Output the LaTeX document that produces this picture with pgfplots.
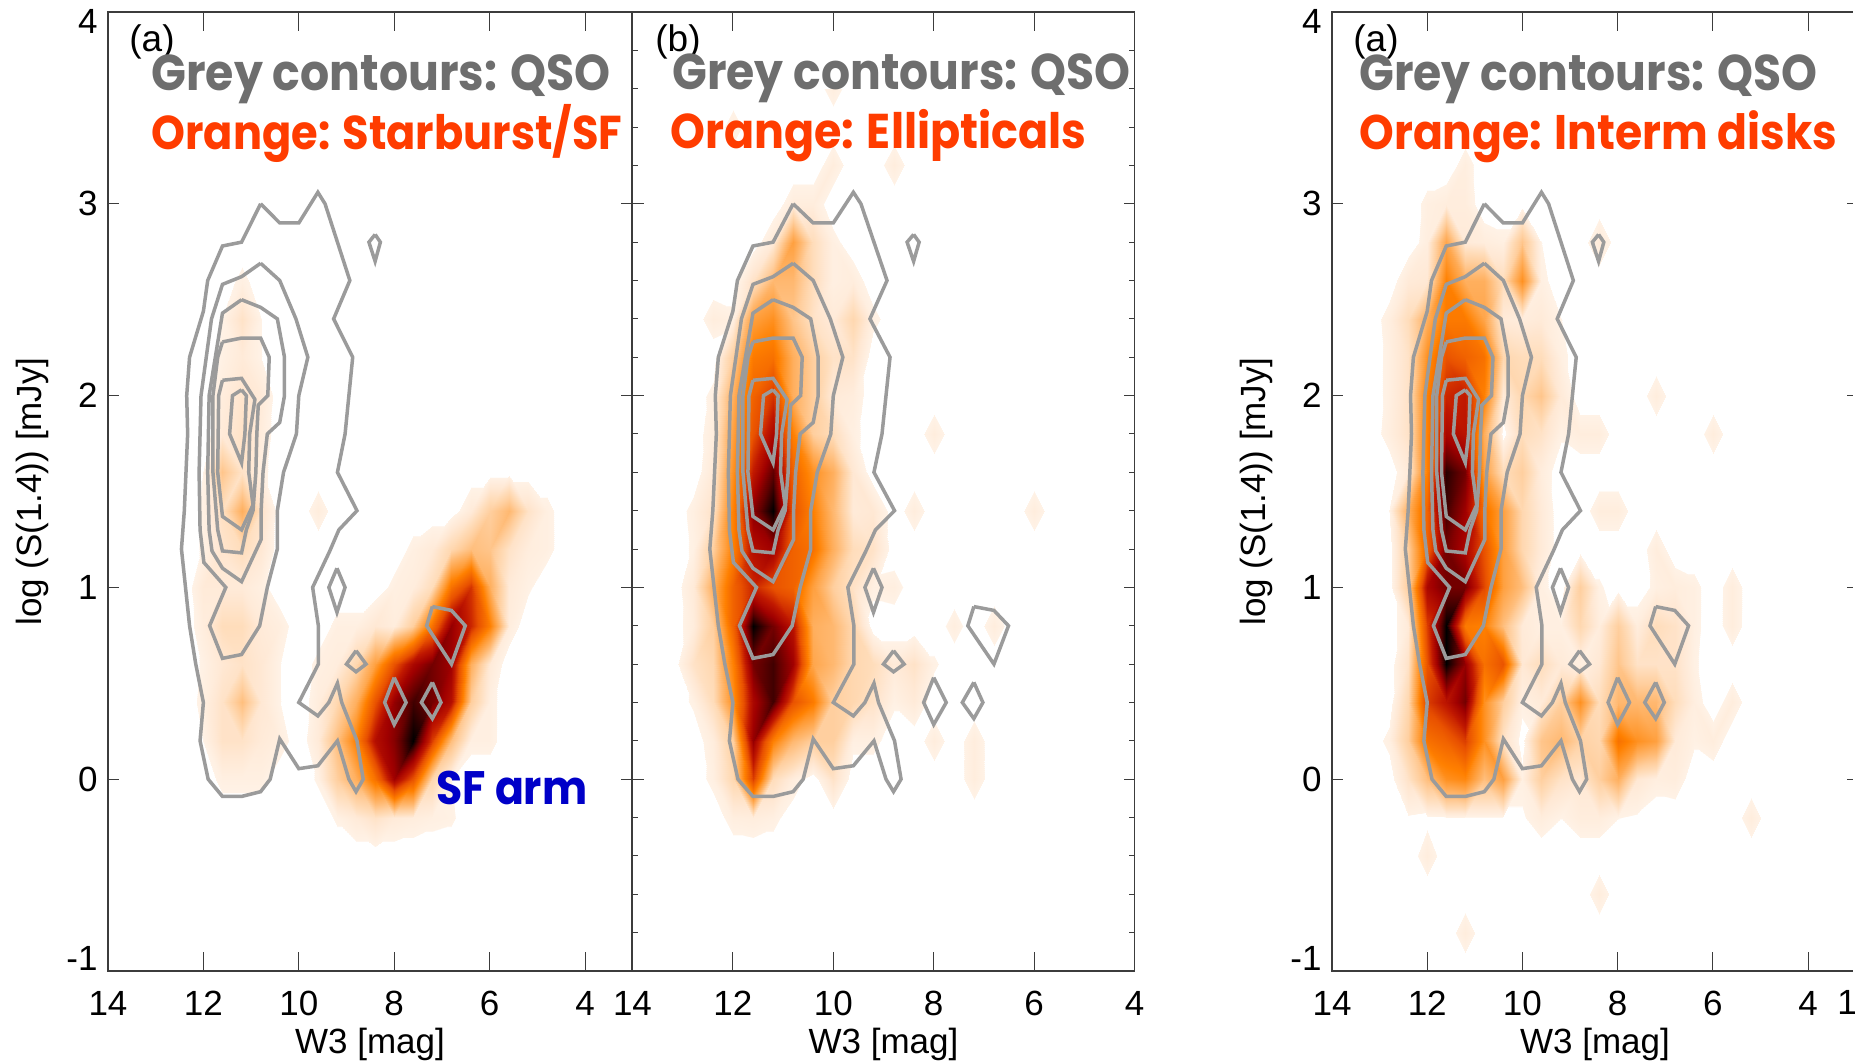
\documentclass[border=0pt]{standalone}
\usepackage{pgfplots}
\pgfplotsset{compat=1.18}
\usepackage{fontspec}
\setmainfont{Liberation Sans}
\newfontfamily\gf{Poppins}
\definecolor{gt}{RGB}{110,110,110}
\definecolor{ot}{RGB}{255,60,0}
\definecolor{bt}{RGB}{0,0,200}
\definecolor{cl}{RGB}{155,155,155}
\definecolor{sp}{RGB}{60,60,60}
% each row: panel name, y value, densities at x = 13.2, 12.8, ..., 4.4
\newcount\rowno
\newcommand\startfield{\global\rowno=0 }
\newcommand\fieldrow[3]{\global\advance\rowno by 1 \expandafter\xdef\csname #1@y@\the\rowno\endcsname{#2}%
 \foreach \z [count=\i from 0] in {#3}{\expandafter\xdef\csname #1@\the\rowno @\i\endcsname{\z}}}
\newcommand\zrow[2]{\fieldrow{#1}{#2}{0,0,0,0,0,0,0,0,0,0,0,0,0,0,0,0,0,0,0,0,0,0,0}}
% Panel 1: Starburst/SF
\startfield
\zrow{A}{3.6}\zrow{A}{3.4}\zrow{A}{3.2}\zrow{A}{3.0}\zrow{A}{2.8}
\fieldrow{A}{2.6}{0,0,0,0, 0,3,0,0, 0,0,0,0, 0,0,0,0, 0,0,0,0, 0,0,0}
\fieldrow{A}{2.4}{0,0,0,0, 2,8,2,0, 0,0,0,0, 0,0,0,0, 0,0,0,0, 0,0,0}
\fieldrow{A}{2.2}{0,0,0,0, 2.5,5,2,0, 0,0,0,0, 0,0,0,0, 0,0,0,0, 0,0,0}
\fieldrow{A}{2.0}{0,0,0,0, 4,7,5,0, 0,0,0,0, 0,0,0,0, 0,0,0,0, 0,0,0}
\fieldrow{A}{1.8}{0,0,0,0, 5,8,4,0, 0,0,0,0, 0,0,0,0, 0,0,0,0, 0,0,0}
\fieldrow{A}{1.6}{0,0,0,2, 18,8,3,0, 0,0,0,0, 0,0,0,0, 0,0,0,0, 0,0,0}
\fieldrow{A}{1.4}{0,0,0,2.5, 9,25,8,0, 0,4,0,0, 0,0,0,0, 0,5,15,22, 8,3,0}
\fieldrow{A}{1.2}{0,0,0,2.5, 7,10,6,0, 0,0,0,0, 0,0,3,5, 12,20,18,8, 4,3,0}
\fieldrow{A}{1.0}{0,0,0,5, 5,5,3,0, 0,0,0,0, 0,3,4,10, 45,62,25,5, 2.5,0,0}
\fieldrow{A}{0.8}{0,0,0,4, 10,10,5,3.5, 0,0,3,3, 6,4,15,45, 80,65,40,4, 0,0,0}
\fieldrow{A}{0.6}{0,0,0,2.5, 6,8,6,2, 0,3,4,12, 30,55,75,85, 78,25,5,0, 0,0,0}
\fieldrow{A}{0.4}{0,0,0,3, 8,20,6,2, 0,4,12,25, 55,80,92,85, 72,15,3,0, 0,0,0}
\fieldrow{A}{0.2}{0,0,0,2, 8,8,5,3.5, 0,5,20,40, 72,82,100,60, 20,3,3,0, 0,0,0}
\fieldrow{A}{0.0}{0,0,0,0, 3,3,3,0, 0,2.5,15,25, 45,78,55,12, 2,0,0,0, 0,0,0}
\fieldrow{A}{-0.2}{0,0,0,0, 0,0,0,0, 0,0,2.5,5, 8,5,4,3, 2.5,0,0,0, 0,0,0}
\zrow{A}{-0.4}\zrow{A}{-0.6}\zrow{A}{-0.8}\zrow{A}{-1.0}
% Panel 2: Ellipticals
\startfield
\fieldrow{B}{3.6}{0,0,0,0, 0,0,0,0, 3.5,0,0,0, 0,0,0,0, 0,0,0,0, 0,0,0}
\fieldrow{B}{3.4}{0,0,0,3.5, 0,0,0,0, 0,0,0,0, 0,0,0,0, 0,0,0,0, 0,0,0}
\fieldrow{B}{3.2}{0,0,0,0, 0,0,0,0, 4,0,0,4, 0,0,0,0, 0,0,0,0, 0,0,0}
\fieldrow{B}{3.0}{0,0,0,0, 0,0,4,4, 0,0,0,0, 0,0,0,0, 0,0,0,0, 0,0,0}
\fieldrow{B}{2.8}{0,0,0,0, 0,5,30,10, 3,0,0,0, 0,0,0,0, 0,0,0,0, 0,0,0}
\fieldrow{B}{2.6}{0,0,0,0, 8,22,22,10, 3,4,0,0, 0,0,0,0, 0,0,0,0, 0,0,0}
\fieldrow{B}{2.4}{0,0,4,3, 30,35,18,8, 5,12,3,0, 0,0,0,0, 0,0,0,0, 0,0,0}
\fieldrow{B}{2.2}{0,0,0,15, 42,45,25,15, 8,8,0,0, 0,0,0,0, 0,0,0,0, 0,0,0}
\fieldrow{B}{2.0}{0,0,3,25, 50,62,25,15, 5,4,0,0, 0,0,0,0, 0,0,0,0, 0,0,0}
\fieldrow{B}{1.8}{0,0,4,30, 55,75,40,15, 10,3,0,0, 0,4,0,0, 0,0,0,0, 0,0,0}
\fieldrow{B}{1.6}{0,0,5,35, 68,88,50,35, 25,6,0,0, 0,0,0,0, 0,0,0,0, 0,0,0}
\fieldrow{B}{1.4}{0,3,8,40, 82,100,55,40, 22,5,6,0, 4,0,0,0, 0,0,4,0, 0,0,0}
\fieldrow{B}{1.2}{0,2.5,15,40, 72,78,50,45, 25,10,8,0, 0,0,0,0, 0,0,0,0, 0,0,0}
\fieldrow{B}{1.0}{0,5,25,50, 65,55,50,30, 15,8,3,3.5, 0,0,0,0, 0,0,0,0, 0,0,0}
\fieldrow{B}{0.8}{0,4,15,50, 100,85,70,25, 22,12,0,0, 0,0,3.5,0, 4,0,0,0, 0,0,0}
\fieldrow{B}{0.6}{0,8,12,40, 85,92,78,28, 22,12,10,5, 8,2.5,0,0, 0,0,0,0, 0,0,0}
\fieldrow{B}{0.4}{0,2.5,10,35, 75,92,55,42, 15,12,8,2.5, 5,0,0,0, 0,0,0,0, 0,0,0}
\fieldrow{B}{0.2}{0,0,4,15, 80,40,22,15, 15,3,3,0, 0,4,0,4, 0,0,0,0, 0,0,0}
\fieldrow{B}{0.0}{0,0,3,12, 60,10,4,0, 8,0,0,0, 0,0,0,4, 0,0,0,0, 0,0,0}
\fieldrow{B}{-0.2}{0,0,0,3.5, 4,3,0,0, 0,0,0,0, 0,0,0,0, 0,0,0,0, 0,0,0}
\zrow{B}{-0.4}\zrow{B}{-0.6}\zrow{B}{-0.8}\zrow{B}{-1.0}
% Panel 3: Interm disks
\startfield
\zrow{C}{3.6}\zrow{C}{3.4}
\fieldrow{C}{3.2}{0,0,0,0, 0,3.5,0,0, 0,0,0,0, 0,0,0,0, 0,0,0,0, 0,0,0}
\fieldrow{C}{3.0}{0,0,0,3, 4,4,0,0, 0,0,0,0, 0,0,0,0, 0,0,0,0, 0,0,0}
\fieldrow{C}{2.8}{0,0,0,3.5, 28,5,4,3, 18,2,0,0, 5,0,0,0, 0,0,0,0, 0,0,0}
\fieldrow{C}{2.6}{0,0,5,6, 40,25,25,10, 35,3,0,0, 0,0,0,0, 0,0,0,0, 0,0,0}
\fieldrow{C}{2.4}{0,3.5,10,25, 42,42,28,5, 4,5,2,0, 0,0,0,0, 0,0,0,0, 0,0,0}
\fieldrow{C}{2.2}{0,3,8,35, 55,50,45,12, 10,10,3,0, 0,0,0,0, 0,0,0,0, 0,0,0}
\fieldrow{C}{2.0}{0,3,8,40, 65,68,40,5, 12,18,5,0, 0,0,0,4, 0,0,0,0, 0,0,0}
\fieldrow{C}{1.8}{0,3.5,8,40, 75,70,25,0.5, 10,8,2.5,4, 4,0,0,0, 0,0,4,0, 0,0,0}
\fieldrow{C}{1.6}{0,0,5,40, 95,85,30,10, 15,4,0,0, 0,0,0,0, 0,0,0,0, 0,0,0}
\fieldrow{C}{1.4}{0,2,25,50, 92,78,45,30, 12,5,0,0, 4,4,0,0, 0,0,0,0, 0,0,0}
\fieldrow{C}{1.2}{0,0,15,50, 85,75,55,30, 12,5,0,0, 0,0,0,4, 0,0,0,0, 0,0,0}
\fieldrow{C}{1.0}{0,0,15,75, 85,85,58,30, 20,3,0,15, 2.5,0,0,3, 4,3,0,4, 0,0,0}
\fieldrow{C}{0.8}{0,0,5,60, 100,42,40,20, 5,3,3,12, 4,15,4,10, 8,3,0,4, 0,0,0}
\fieldrow{C}{0.6}{0,0,8,55, 100,80,45,55, 6,10,5,3, 6,18,8,8, 8,2.5,0,0, 0,0,0}
\fieldrow{C}{0.4}{0,0,12,60, 70,85,35,15, 3,5,15,35, 10,22,22,22, 10,3.5,0,4, 0,0,0}
\fieldrow{C}{0.2}{0,3,15,45, 50,60,35,8, 0.5,18,22,14, 12,45,35,30, 5,2.5,4,0, 0,0,0}
\fieldrow{C}{0.0}{0,0,8,20, 35,38,20,30, 3,15,8,6, 15,25,6,3.5, 4,0,0,0, 0,0,0}
\fieldrow{C}{-0.2}{0,0,1.5,1, 1.5,1.5,1.5,1.5, 1.5,4,2,4, 4,2,1.5,0, 0,0,0,0, 4,0,0}
\fieldrow{C}{-0.4}{0,0,0,4, 0,0,0,0, 0,0,0,0, 0,0,0,0, 0,0,0,0, 0,0,0}
\fieldrow{C}{-0.6}{0,0,0,0, 0,0,0,0, 0,0,0,0, 4,0,0,0, 0,0,0,0, 0,0,0}
\fieldrow{C}{-0.8}{0,0,0,0, 0,4,0,0, 0,0,0,0, 0,0,0,0, 0,0,0,0, 0,0,0}
\zrow{C}{-1.0}
% triangles from the grid: each non-empty cell is split along the diagonal whose ends differ least
\newcommand\vtx[2]{(\csname xx\number#2\endcsname,\csname \pn @y@\number#1\endcsname) [\csname \pn @\number#1@\number#2\endcsname]}
\newcommand\buildfield[2]{\gdef#2{}\def\pn{#1}%
 \foreach \r in {1,...,23}{\foreach \c in {0,...,21}{%
  \pgfmathtruncatemacro\rn{\r+1}\pgfmathtruncatemacro\cn{\c+1}%
  \edef\A{\csname #1@\r @\c\endcsname}\edef\B{\csname #1@\r @\cn\endcsname}%
  \edef\C{\csname #1@\rn @\c\endcsname}\edef\D{\csname #1@\rn @\cn\endcsname}%
  \pgfmathsetmacro\sm{\A+\B+\C+\D}%
  \ifdim\sm pt>0pt
   \pgfmathsetmacro\da{abs(\A-\D)}\pgfmathsetmacro\db{abs(\B-\C)}%
   \ifdim\da pt<\db pt
    \xdef#2{#2 \vtx{\r}{\c}\vtx{\r}{\cn}\vtx{\rn}{\cn}\vtx{\r}{\c}\vtx{\rn}{\cn}\vtx{\rn}{\c}}%
   \else
    \xdef#2{#2 \vtx{\r}{\c}\vtx{\r}{\cn}\vtx{\rn}{\c}\vtx{\r}{\cn}\vtx{\rn}{\cn}\vtx{\rn}{\c}}%
   \fi
  \fi}}}
\foreach \xv [count=\i from 0] in {13.2,12.8,12.4,12,11.6,11.2,10.8,10.4,10,9.6,9.2,8.8,8.4,8,7.6,7.2,6.8,6.4,6,5.6,5.2,4.8,4.4}{\expandafter\xdef\csname xx\i\endcsname{\xv}}
\buildfield{A}{\fA}
\buildfield{B}{\fB}
\buildfield{C}{\fC}
% QSO contours, shared by the panels
\newcommand\qso{%
\addplot[ql] coordinates {(10.8,3.0)(10.4,2.9)(10,2.9)(9.6,3.06)(9.45,3)(8.93,2.6)(9.27,2.4)(8.87,2.2)(9.03,1.8)(9.19,1.6)(8.78,1.4)(9.16,1.3)(9.35,1.19)(9.71,1)(9.59,.8)(9.59,.6)(10,.4)(9.6,.33)(9.37,.4)(9.19,.5)(9.1,.4)(8.78,.2)(8.65,0)(8.8,-.065)(8.95,0)(9.19,.2)(9.6,.07)(10,.055)(10.4,.21)(10.6,0)(10.8,-.065)(11.2,-.09)(11.6,-.09)(11.9,0)(12.07,.2)(12,.4)(12.16,.6)(12.29,.8)(12.46,1.2)(12.4,1.4)(12.33,1.8)(12.35,2)(12.29,2.2)(12,2.44)(11.91,2.6)(11.6,2.78)(11.2,2.8)(10.8,3.0)};
\addplot[ql] coordinates {(10.8,2.69)(10.4,2.6)(10.06,2.4)(9.81,2.2)(10,2)(10.05,1.8)(10.32,1.6)(10.45,1.4)(10.45,1.2)(10.66,1)(10.82,.8)(11.2,.65)(11.6,.63)(11.87,.8)(11.53,1)(11.99,1.13)(12.07,1.3)(12.09,1.6)(12.05,2)(11.83,2.4)(11.6,2.58)(11.2,2.62)(10.8,2.69)};
\addplot[ql] coordinates {(11.2,2.5)(10.8,2.46)(10.45,2.4)(10.3,2.2)(10.3,2)(10.4,1.86)(10.66,1.8)(10.75,1.6)(10.79,1.4)(10.79,1.25)(11.2,1.03)(11.6,1.1)(11.82,1.19)(11.88,1.3)(11.91,1.6)(11.88,2)(11.75,2.2)(11.6,2.43)(11.2,2.5)};
\addplot[ql] coordinates {(11.6,2.28)(11.2,2.3)(10.8,2.3)(10.62,2.2)(10.65,2)(10.85,1.95)(10.88,1.8)(10.9,1.6)(10.96,1.4)(11.1,1.3)(11.2,1.18)(11.6,1.19)(11.7,1.3)(11.8,1.6)(11.8,2)(11.7,2.2)(11.6,2.28)};
\addplot[ql] coordinates {(11.6,2.08)(11.2,2.09)(10.92,1.98)(11.03,1.8)(11.05,1.6)(10.96,1.43)(11.2,1.3)(11.6,1.37)(11.7,1.6)(11.68,2)(11.6,2.08)};
\addplot[ql] coordinates {(11.2,2.03)(11.1,2)(11.13,1.8)(11.2,1.65)(11.45,1.8)(11.39,2)(11.2,2.03)};
\addplot[ql] coordinates {(8.4,2.84)(8.29,2.8)(8.4,2.7)(8.53,2.8)(8.4,2.84)};
\addplot[ql] coordinates {(9.2,1.1)(9.03,1)(9.2,.87)(9.37,1)(9.2,1.1)};
\addplot[ql] coordinates {(8.8,.67)(8.59,.6)(8.8,.56)(9,.6)(8.8,.67)};
\addplot[ql] coordinates {(8,.53)(7.75,.4)(8,.285)(8.2,.4)(8,.53)};
\addplot[ql] coordinates {(7.2,.505)(7.02,.4)(7.2,.316)(7.43,.4)(7.2,.505)};
\addplot[ql] coordinates {(7.2,.9)(6.8,.88)(6.51,.8)(6.8,.6)(7.32,.8)(7.2,.9)};
}
\pgfplotsset{
 colormap={dens}{rgb255(0pt)=(255,255,255); rgb255(19pt)=(255,255,255); rgb255(20pt)=(255,242,230); rgb255(60pt)=(255,232,212); rgb255(100pt)=(255,221,187); rgb255(150pt)=(255,207,159); rgb255(220pt)=(255,184,112); rgb255(320pt)=(255,154,51); rgb255(400pt)=(255,128,0); rgb255(560pt)=(232,80,0); rgb255(680pt)=(192,24,0); rgb255(780pt)=(160,0,0); rgb255(880pt)=(96,0,0); rgb255(1000pt)=(0,0,0)},
 ql/.style={cl,line width=1.75pt,mark=none,line join=miter},
 base/.style={scale only axis,anchor=south west,height=479.5pt,ymin=-1,ymax=4,x dir=reverse,xmax=14,
   axis line style={sp,line width=.55pt},tick align=inside,every tick/.style={sp,line width=.5pt},
   tick label style={font=\fontsize{17.5}{20}\selectfont}},
 xa/.style={base,ytick=\empty,major tick length=9.5pt,xtick={14,12,10,8,6,4},xticklabels={14,12,10,8,6,4},
   x tick label style={inner sep=0pt,yshift=-10pt},
   xlabel={W3 [mag]},xlabel style={font=\fontsize{17.5}{20}\selectfont,at={(axis description cs:.5,0)},anchor=base,yshift=-41pt}},
 ya/.style={base,xtick=\empty,major tick length=5.5pt,ytick={-1,0,1,2,3,4}},
 yl/.style={yticklabels={\raisebox{6.5pt}[\height][\depth]{-1},0,1,2,3,\raisebox{-4.5pt}[\height][\depth]{4}},
   y tick label style={inner sep=0pt,xshift=-5pt},
   ylabel={log (S(1.4)) [mJy]},ylabel style={font=\fontsize{17.5}{20}\selectfont,at={(axis description cs:#1,.5)},anchor=base}},
}
\newcommand\field[1]{\edef\doplot{\noexpand\addplot[patch,patch type=triangle,shader=interp,point meta=explicit,point meta min=0,point meta max=100,colormap name=dens] coordinates {#1};}\doplot}
\newcommand\tx[5]{\node[anchor=base west,inner sep=0pt,text=#4] at ({#1*0.5pt},{(1061-#2)*0.5pt}) {\resizebox{\dimexpr #3pt/2\relax}{!}{\scalebox{1}[1.1]{#5}}};}
\newcommand\pl[3]{\node[anchor=base west,inner sep=0pt] at ({#1*0.5pt},{(1061-#2)*0.5pt}) {\fontsize{18.5}{20}\selectfont #3};}
\begin{document}
\begin{tikzpicture}
\useasboundingbox (0,0) rectangle (935.5pt,530.5pt);
% Panel 1
\begin{axis}[ya,yl=-0.1276,at={(54pt,45pt)},width=262pt,xmin=3.015]
\field{\fA}
\qso
\end{axis}
\begin{axis}[xa,at={(54pt,45pt)},width=262pt,xmin=3.015]
\end{axis}
% Panel 2
\begin{axis}[ya,yticklabels={},minor y tick num=4,minor tick length=2.6pt,at={(316.25pt,45pt)},width=251pt,xmin=4]
\field{\fB}
\qso
\end{axis}
\begin{axis}[xa,at={(316.25pt,45pt)},width=251pt,xmin=4]
\end{axis}
% Panel 3
\begin{axis}[ya,yl=-0.1274,at={(666pt,45pt)},width=263pt,xmin=2.95]
\field{\fC}
\qso
\end{axis}
\begin{axis}[xa,at={(666pt,45pt)},width=263pt,xmin=2.95]
\end{axis}
\fill[white] (926.5pt,0pt) rectangle (935.5pt,530.5pt);
\node[anchor=base,inner sep=0pt] at (923.5pt,23.5pt) {\fontsize{17.5}{20}\selectfont 1};
% Annotations
\pl{129}{52}{(a)}
\pl{655}{52}{(b)}
\pl{1353}{52}{(a)}
\tx{151}{91}{459}{gt}{\gf\bfseries Grey contours: QSO}
\tx{151}{150}{471}{ot}{\gf\bfseries Orange: Starburst/SF}
\tx{672}{90}{458}{gt}{\gf\bfseries Grey contours: QSO}
\tx{670}{149}{416}{ot}{\gf\bfseries Orange: Ellipticals}
\tx{1359}{91}{458}{gt}{\gf\bfseries Grey contours: QSO}
\tx{1359}{150}{478}{ot}{\gf\bfseries Orange: Interm disks}
\tx{436}{804}{151}{bt}{\gf\bfseries SF arm}
\end{tikzpicture}
\end{document}
